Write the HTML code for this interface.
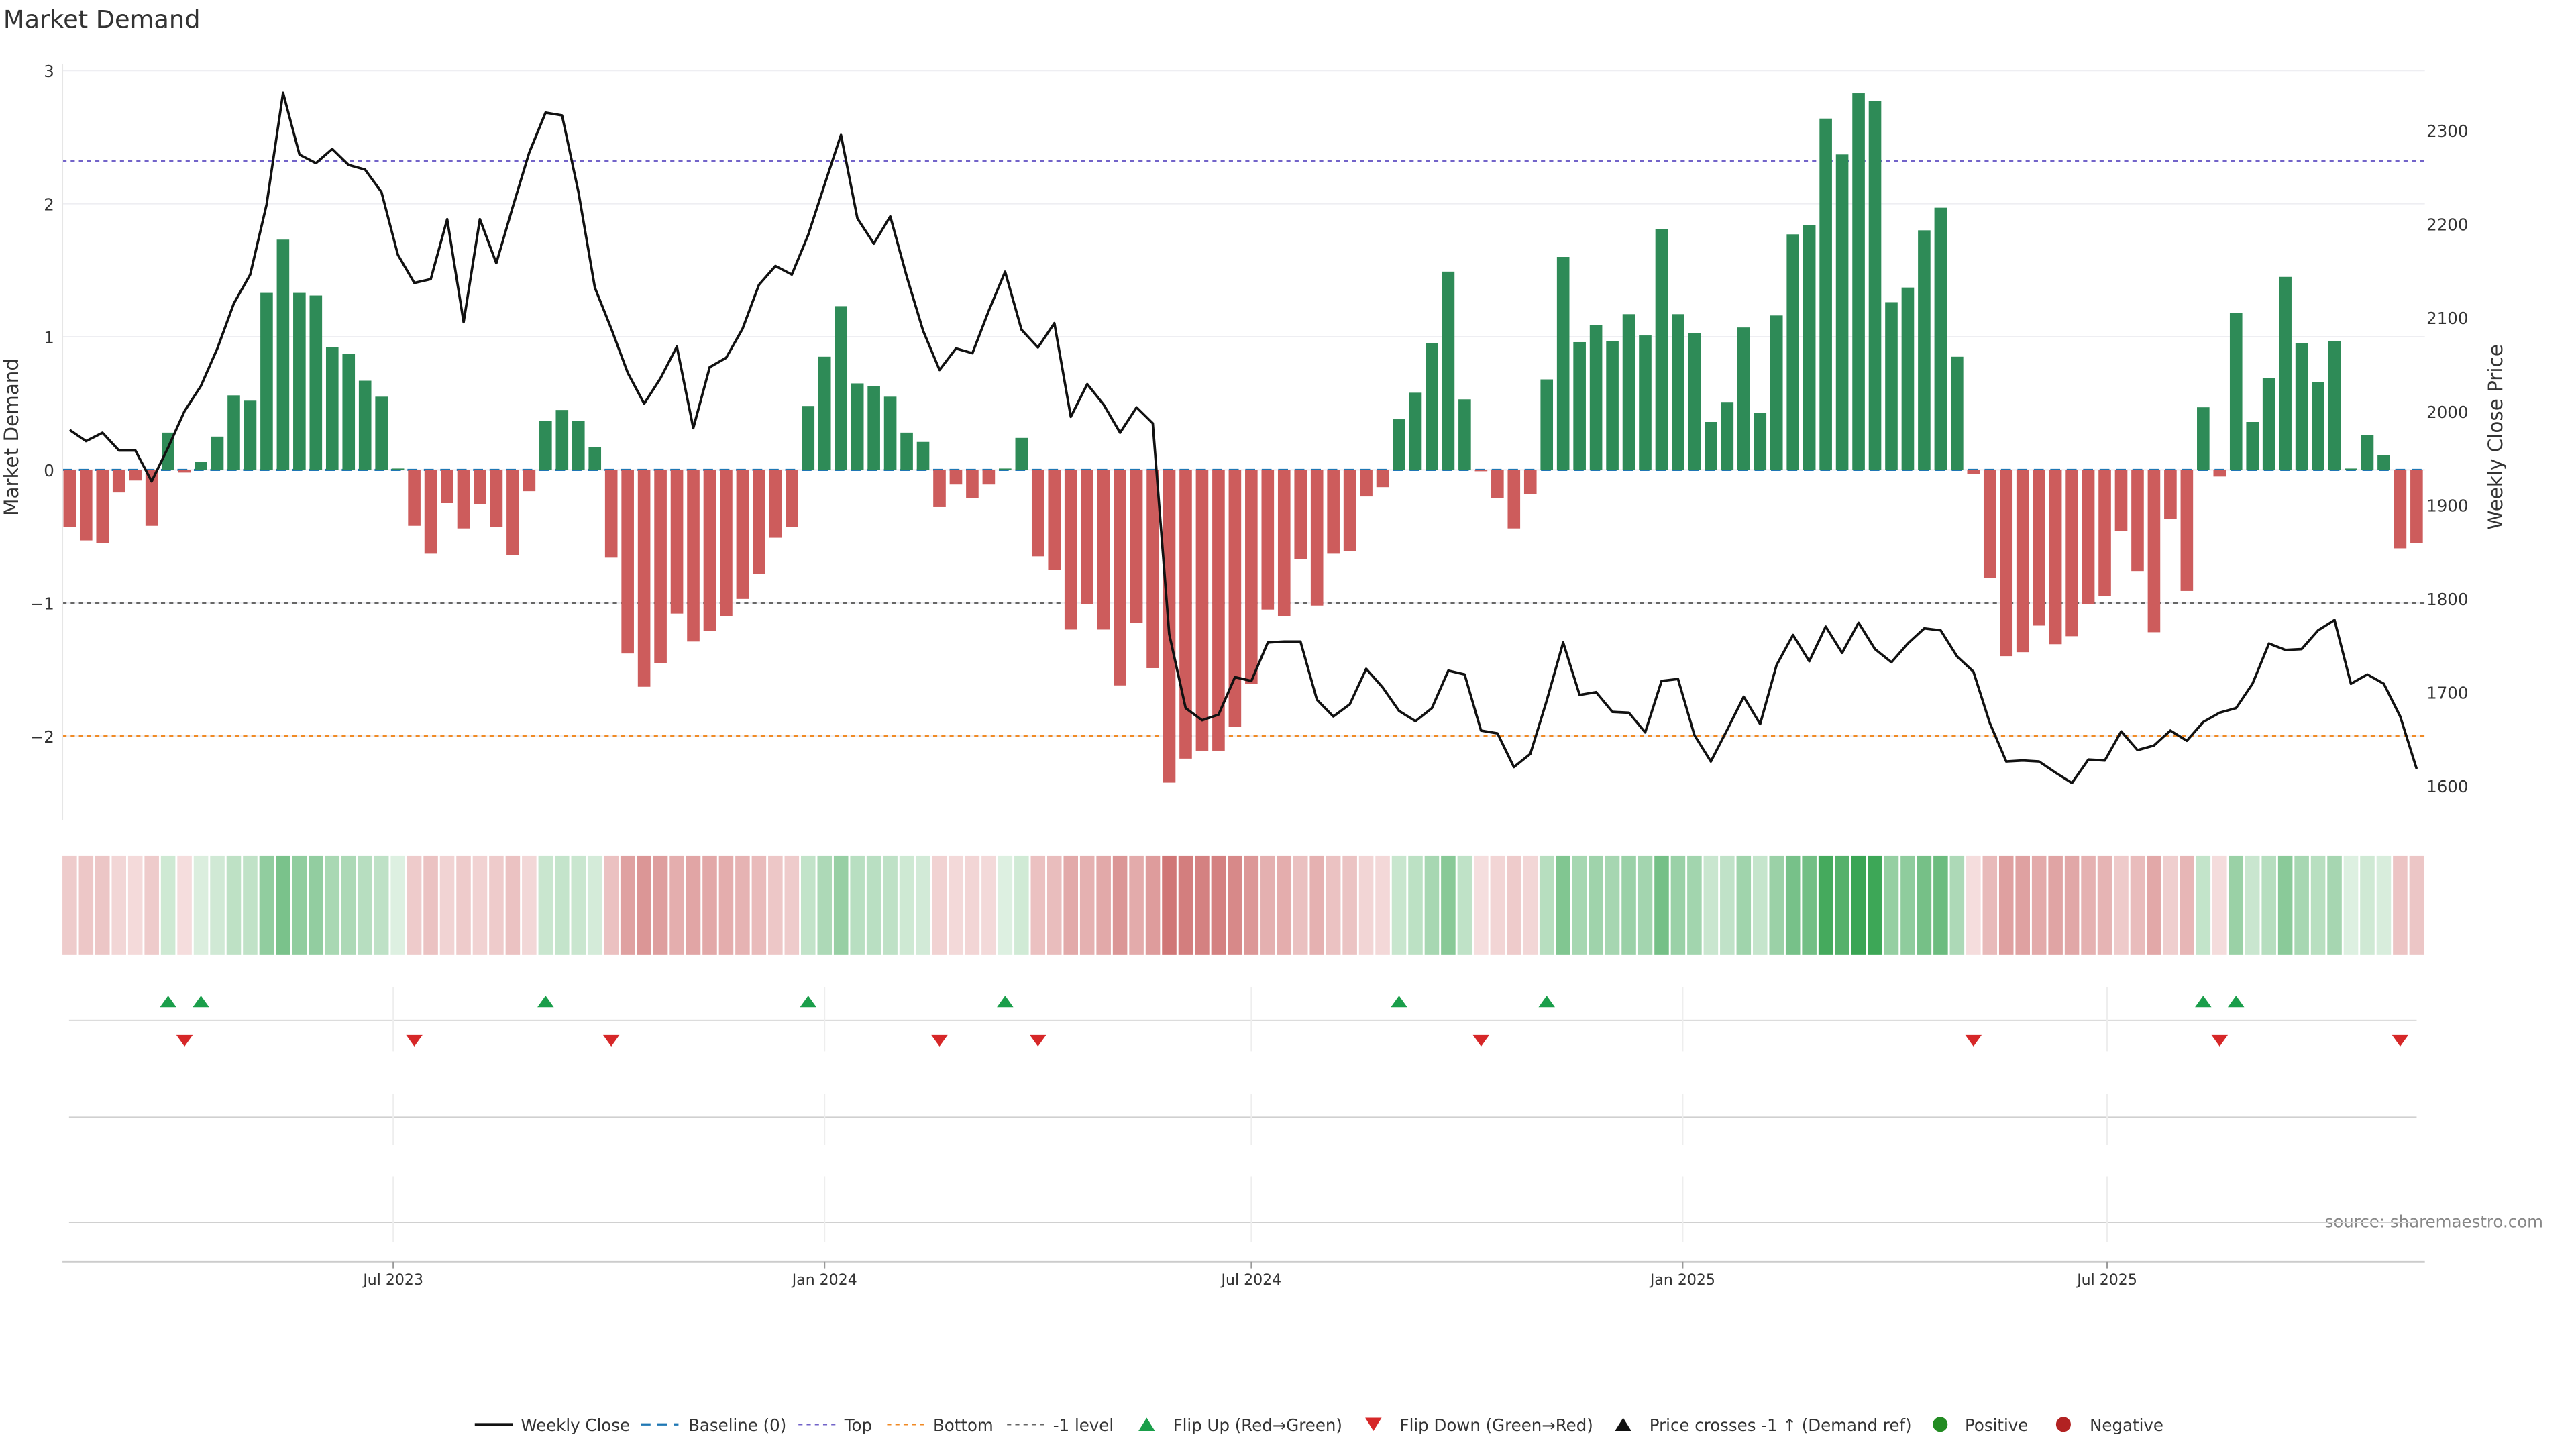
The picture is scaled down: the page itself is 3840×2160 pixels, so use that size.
<!DOCTYPE html>
<html><head><meta charset="utf-8"><style>
html,body{margin:0;padding:0;background:#fff;}
svg{display:block;font-family:"DejaVu Sans","Liberation Sans",sans-serif;}
</style></head><body>
<svg id="chart" xmlns="http://www.w3.org/2000/svg" width="3840" height="2160" viewBox="0 0 1568 882">
<text x="2" y="17" font-size="15" fill="#333">Market Demand</text>
<text transform="translate(11,266) rotate(-90)" text-anchor="middle" font-size="12" fill="#333">Market Demand</text>
<text transform="translate(1523,266) rotate(-90)" text-anchor="middle" font-size="12" fill="#333">Weekly Close Price</text>
<text x="1548" y="747" text-anchor="end" font-size="10" fill="#888">source: sharemaestro.com</text>
<g id="grid"></g><g id="refs"></g><g id="bars"></g><g id="price"></g><g id="strip"></g><g id="flips"></g><g id="axes"></g><g id="legend"></g>
</svg>
<script>
const demand = [-0.43,-0.53,-0.55,-0.17,-0.08,-0.42,0.28,-0.02,0.06,0.25,
0.56,0.52,1.33,1.73,1.33,1.31,0.92,0.87,0.67,0.55,
0.01,-0.42,-0.63,-0.25,-0.44,-0.26,-0.43,-0.64,-0.16,0.37,
0.45,0.37,0.17,-0.66,-1.38,-1.63,-1.45,-1.08,-1.29,-1.21,
-1.10,-0.97,-0.78,-0.51,-0.43,0.48,0.85,1.23,0.65,0.63,
0.55,0.28,0.21,-0.28,-0.11,-0.21,-0.11,0.01,0.24,-0.65,
-0.75,-1.20,-1.01,-1.20,-1.62,-1.15,-1.49,-2.35,-2.17,-2.11,
-2.11,-1.93,-1.61,-1.05,-1.10,-0.67,-1.02,-0.63,-0.61,-0.20,
-0.13,0.38,0.58,0.95,1.49,0.53,-0.01,-0.21,-0.44,-0.18,
0.68,1.60,0.96,1.09,0.97,1.17,1.01,1.81,1.17,1.03,
0.36,0.51,1.07,0.43,1.16,1.77,1.84,2.64,2.37,2.83,
2.77,1.26,1.37,1.80,1.97,0.85,-0.03,-0.81,-1.40,-1.37,
-1.17,-1.31,-1.25,-1.01,-0.95,-0.46,-0.76,-1.22,-0.37,-0.91,
0.47,-0.05,1.18,0.36,0.69,1.45,0.95,0.66,0.97,0.01,
0.26,0.11,-0.59,-0.55];
const closePrice = [1980,1968,1977,1958,1958,1925,1961,2000,2027,2067,
2115,2146,2221,2340,2274,2265,2280,2263,2258,2234,
2167,2137,2141,2205,2095,2205,2158,2218,2276,2319,
2316,2234,2132,2088,2041,2008,2035,2069,1982,2047,
2057,2088,2135,2155,2146,2188,2242,2295,2206,2179,
2208,2144,2086,2044,2067,2062,2107,2149,2087,2068,
2094,1994,2029,2007,1977,2004,1987,1762,1683,1670,
1676,1716,1712,1753,1754,1754,1692,1674,1687,1725,
1705,1680,1669,1683,1723,1719,1659,1656,1620,1634,
1691,1753,1697,1700,1679,1678,1657,1712,1714,1654,
1626,1660,1695,1666,1729,1761,1733,1770,1742,1774,
1746,1732,1752,1768,1766,1738,1722,1667,1626,1627,
1626,1614,1603,1628,1627,1658,1638,1643,1659,1648,
1668,1678,1683,1709,1752,1745,1746,1766,1777,1709,
1719,1709,1674,1618];
const demandTicks = [3,2,1,0,-1,-2];
const demandTickLabels = ["3","2","1","0","\u22121","\u22122"];
const priceTicks = [2300,2200,2100,2000,1900,1800,1700,1600];
const refLevels = [2.32,-1,-2];
const dateTicks = ["2023-07-01","2024-01-01","2024-07-01","2025-01-01","2025-07-01"];
const dateTickLabels = ["Jul 2023","Jan 2024","Jul 2024","Jan 2025","Jul 2025"];
const startDate = "2023-02-13";

const NS="http://www.w3.org/2000/svg";
const X0=42.4, STEP=9.99, BW=7.6;
const xi=i=>X0+i*STEP;
const yD=v=>286-v*81;
const yP=p=>79.3+(2300-p)*0.57;
const xDate=s=>X0+(new Date(s)-new Date(startDate))/(7*864e5)*STEP;
function mk(parent,tag,attrs){const e=document.createElementNS(NS,tag);for(const k in attrs)e.setAttribute(k,attrs[k]);document.getElementById(parent).appendChild(e);return e;}

// grid
demandTicks.forEach((t,k)=>{
  const g=mk('grid','line',{x1:38,x2:1476,y1:yD(t),y2:yD(t),stroke:'#eeeef2','stroke-width':0.8});
  
  
  const l=mk('axes','text',{x:33,y:yD(t)+4,'text-anchor':'end','font-size':10,fill:'#333'});
  l.textContent=demandTickLabels[k];
  
  
});
priceTicks.forEach(p=>{
  const l=mk('axes','text',{x:1477,y:yP(p)+4,'font-size':10,fill:'#333'});
  l.textContent=String(p);
  
  
});
// baseline
const bl=mk('refs','line',{x1:38,x2:1476,y1:yD(0),y2:yD(0),stroke:'#1f77b4','stroke-width':1.3,'stroke-dasharray':'6,4'});


const refCols=['#7263c9','#666','#f08a24'];
refLevels.forEach((v,k)=>{
  const r=mk('refs','line',{x1:38,x2:1476,y1:yD(v),y2:yD(v),stroke:refCols[k],'stroke-width':1,'stroke-dasharray':'2.5,2.5'});
  
  
});
// bars + strip
function lerp(a,b,t){return a.map((c,i)=>Math.round(c+(b[i]-c)*t));}
demand.forEach((v,i)=>{
  const y=yD(Math.max(v,0)), h=Math.abs(yD(v)-yD(0));
  const b=mk('bars','rect',{x:xi(i)-BW/2,y:y,width:BW,height:Math.max(h,0),fill:v>=0?'#2e8b57':'#cd5c5c'});
  
  
  const c=v>=0?lerp([222,240,225],[58,165,84],Math.min(v/2.83,1)):lerp([245,222,222],[208,118,118],Math.min(-v/2.35,1));
  const s=mk('strip','rect',{x:xi(i)-4.4,y:521,width:8.8,height:60,fill:`rgb(${c.join(',')})`});
  
  
  if(i>0){
    const p=demand[i-1];
    if(p<0&&v>=0){const t=mk('flips','path',{d:`M${xi(i)-5},${613}L${xi(i)+5},${613}L${xi(i)},${606}Z`,fill:'#1a9e4a'});
      
      }
    if(p>=0&&v<0){const t=mk('flips','path',{d:`M${xi(i)-5},${630}L${xi(i)+5},${630}L${xi(i)},${637}Z`,fill:'#d62728'});
      
      }
  }
});
// price line
const pl=mk('price','polyline',{points:closePrice.map((p,i)=>xi(i).toFixed(1)+','+yP(p).toFixed(1)).join(' '),fill:'none',stroke:'#111','stroke-width':1.5,'stroke-linejoin':'round'});


// lower panels
[621,680,744].forEach(y=>{
  const l=mk('axes','line',{x1:42,x2:1471,y1:y,y2:y,stroke:'#d0d0d0','stroke-width':0.8});
  
  
});
mk('axes','line',{x1:38,x2:38,y1:39,y2:499,stroke:'#e6e6e6','stroke-width':0.8});
const xa=mk('axes','line',{x1:38,x2:1476,y1:768,y2:768,stroke:'#ccc','stroke-width':0.8});


dateTicks.forEach((d,k)=>{
  const x=xDate(d);
  [[601,640],[666,697],[716,756]].forEach(s=>{mk('axes','line',{x1:x,x2:x,y1:s[0],y2:s[1],stroke:'#eee','stroke-width':0.8});});
  mk('axes','line',{x1:x,x2:x,y1:768,y2:772,stroke:'#999','stroke-width':0.8});
  const t=mk('axes','text',{x:x,y:782,'text-anchor':'middle','font-size':9,fill:'#333'});
  t.textContent=dateTickLabels[k];
  
  
});
</script>
<svg style="position:absolute;left:0;top:0" width="3840" height="2160" viewBox="0 0 1568 882" font-family="DejaVu Sans, Liberation Sans, sans-serif" font-size="10" fill="#333">
<g>
<g><line x1="289" x2="312" y1="867" y2="867" stroke="#111" stroke-width="1.5"/><text x="317" y="871">Weekly Close</text></g>
<g><line x1="390" x2="413" y1="867" y2="867" stroke="#1f77b4" stroke-width="1.3" stroke-dasharray="6,4"/><text x="419" y="871">Baseline (0)</text></g>
<g><line x1="486" x2="509" y1="867" y2="867" stroke="#7263c9" stroke-width="1" stroke-dasharray="2.5,2.5"/><text x="514" y="871">Top</text></g>
<g><line x1="540" x2="563" y1="867" y2="867" stroke="#f08a24" stroke-width="1" stroke-dasharray="2.5,2.5"/><text x="568" y="871">Bottom</text></g>
<g><line x1="613" x2="636" y1="867" y2="867" stroke="#666" stroke-width="1" stroke-dasharray="2.5,2.5"/><text x="641" y="871">-1 level</text></g>
<g><path d="M693,871L703,871L698,863Z" fill="#1a9e4a"/><text x="714" y="871">Flip Up (Red→Green)</text></g>
<g><path d="M831,863L841,863L836,871Z" fill="#d62728"/><text x="852" y="871">Flip Down (Green→Red)</text></g>
<g><path d="M983,871L993,871L988,863Z" fill="#111"/><text x="1004" y="871">Price crosses -1 ↑ (Demand ref)</text></g>
<g><circle cx="1181" cy="867" r="4.5" fill="#228b22"/><text x="1196" y="871">Positive</text></g>
<g><circle cx="1256" cy="867" r="4.5" fill="#b22222"/><text x="1272" y="871">Negative</text></g>
</g>
</svg>
</body></html>
